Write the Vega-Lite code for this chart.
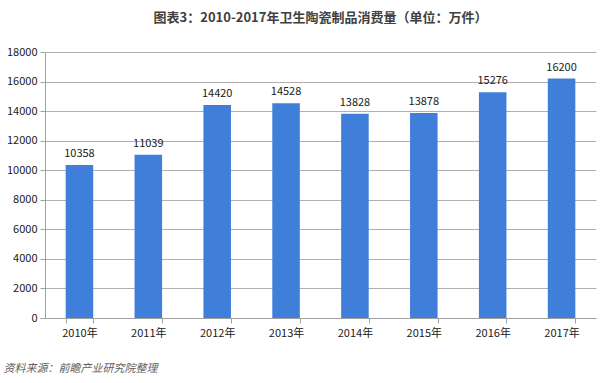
{
  "$schema": "https://vega.github.io/schema/vega-lite/v6.json",
  "autosize": "none",
  "width": 551,
  "height": 266,
  "padding": {"left": 45, "top": 52, "right": 4, "bottom": 65},
  "background": "white",
  "title": {
    "text": "图表3：2010-2017年卫生陶瓷制品消费量（单位：万件）",
    "font": "Noto Sans CJK SC",
    "fontSize": 13,
    "fontWeight": "bold",
    "color": "#404040",
    "anchor": "middle",
    "offset": 21
  },
  "config": {
    "view": {"stroke": null},
    "font": "Noto Sans CJK SC"
  },
  "data": {
    "values": [
      {"year": "2010年", "value": 10358},
      {"year": "2011年", "value": 11039},
      {"year": "2012年", "value": 14420},
      {"year": "2013年", "value": 14528},
      {"year": "2014年", "value": 13828},
      {"year": "2015年", "value": 13878},
      {"year": "2016年", "value": 15276},
      {"year": "2017年", "value": 16200}
    ]
  },
  "encoding": {
    "x": {
      "field": "year",
      "type": "nominal",
      "sort": null,
      "scale": {"paddingInner": 0.6, "paddingOuter": 0.3},
      "axis": {
        "title": "资料来源：前瞻产业研究院整理",
        "titleAnchor": "start",
        "titleAlign": "left",
        "titleX": -42,
        "titleY": 44,
        "titleFont": "Noto Sans CJK SC",
        "titleFontSize": 11,
        "titleFontStyle": "italic",
        "titleFontWeight": "normal",
        "titleColor": "#606060",
        "labelAngle": 0,
        "labelFontSize": 11,
        "labelColor": "#202020",
        "labelPadding": 4,
        "tickBand": "extent",
        "tickSize": 5,
        "tickColor": "#a0a0a0",
        "domainColor": "#a0a0a0",
        "grid": false
      }
    },
    "y": {
      "field": "value",
      "type": "quantitative",
      "scale": {"domain": [0, 18000]},
      "axis": {
        "title": null,
        "values": [0, 2000, 4000, 6000, 8000, 10000, 12000, 14000, 16000, 18000],
        "format": "d",
        "labelFontSize": 11,
        "labelColor": "#202020",
        "labelPadding": 3,
        "tickSize": 5,
        "tickColor": "#a0a0a0",
        "domainColor": "#a0a0a0",
        "gridColor": "#b0b0b0",
        "gridWidth": 1
      }
    }
  },
  "layer": [
    {"mark": {"type": "bar", "color": "#3f7fd9"}},
    {
      "mark": {"type": "text", "dy": -11, "fontSize": 11, "color": "#202020"},
      "encoding": {"text": {"field": "value", "type": "quantitative", "format": "d"}}
    }
  ]
}
